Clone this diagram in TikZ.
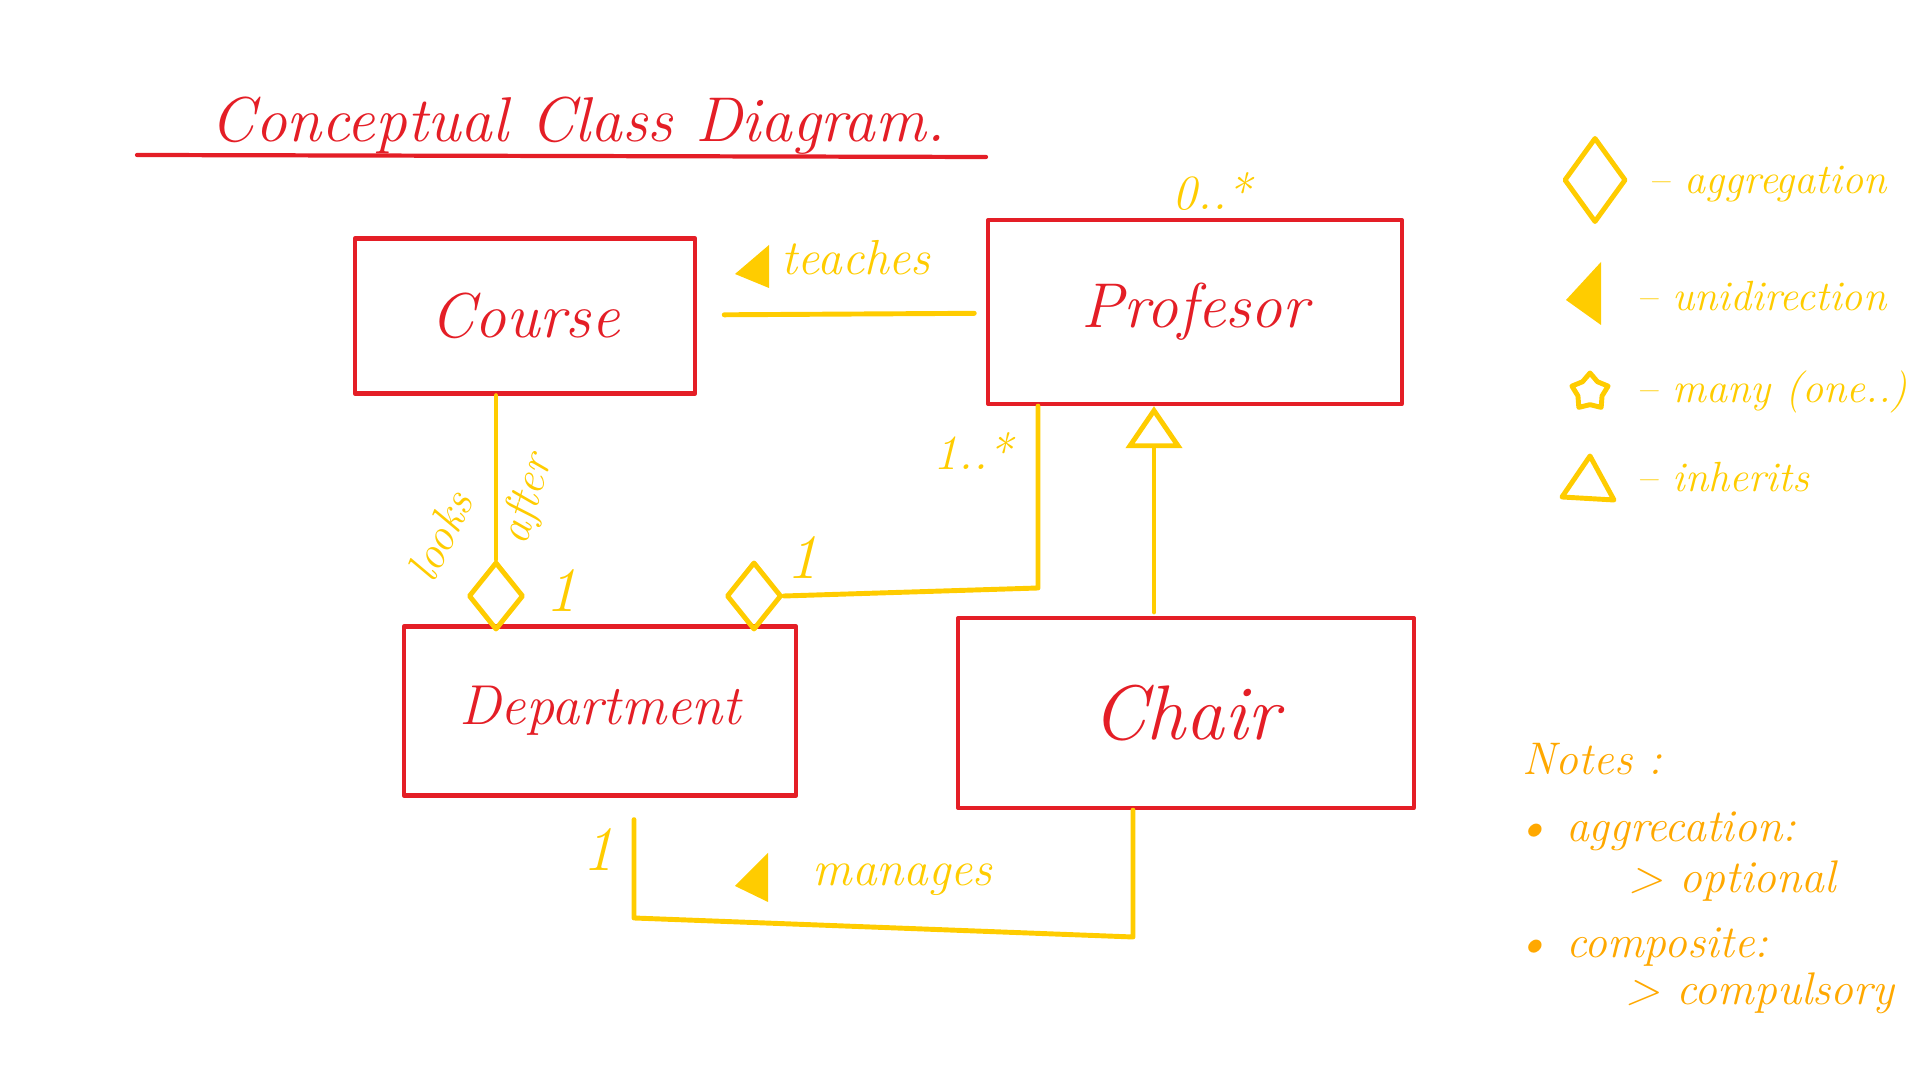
\documentclass[tikz,border=0pt]{standalone}
\usepackage{tikz}
\usetikzlibrary{arrows.meta,shapes.geometric}
\definecolor{penred}{HTML}{E41E26}
\definecolor{penyel}{HTML}{FFCC00}
\definecolor{penorg}{HTML}{FFA800}

\begin{document}
\begin{tikzpicture}[x=0.01cm, y=-0.01cm, line cap=round, line join=round,
    cls/.style={draw=penred, line width=1.2pt, text=penred, inner sep=0pt,
        font=\itshape\fontsize{18}{22}\selectfont},
    link/.style={draw=penyel, line width=1.4pt},
    lbl/.style={text=penyel, inner sep=0pt, font=\itshape\fontsize{14}{17}\selectfont},
    agg/.style={diamond, draw=penyel, line width=1.4pt, inner sep=0pt,
        minimum width=0.55cm, minimum height=0.68cm},
    inherit/.style={link, -{Triangle[open, length=0.42cm, width=0.56cm, line width=1.4pt]}},
    note/.style={text=penorg, inner sep=0pt, anchor=base west,
        font=\itshape\fontsize{13}{16}\selectfont}]
    \useasboundingbox (0,0) rectangle (1920,1080);

    % title
    \node[text=penred, anchor=base, font=\itshape\fontsize{18}{22}\selectfont] (title) at (578,142) {Conceptual Class Diagram.};
    \draw[penred, line width=1.2pt] (137,155) -- (986,157);

    % classes
    \node[cls, minimum width=3.4cm, minimum height=1.55cm] (course) at (525,316) {Course};
    \node[cls, minimum width=4.13cm, minimum height=1.84cm] (prof) at (1195,312) {Profesor};
    \node[cls, minimum width=3.92cm, minimum height=1.69cm, font=\itshape\fontsize{16}{20}\selectfont] (dept) at (600,711) {Department};
    \node[cls, minimum width=4.55cm, minimum height=1.90cm, font=\itshape\fontsize{22}{26}\selectfont] (chair) at (1186,713) {Chair};

    % teaches
    \draw[link, shorten <=0.27cm, shorten >=0.12cm] (course) -- (prof);
    \fill[penyel] (769,245) -- (769,288) -- (735,274) -- cycle;
    \node[lbl, anchor=base west] (teach) at (781,275) {teaches};
    \node[lbl] (m0) at (1212,192) {0..*};

    % looks after
    \node[agg] (agg1) at (496,596) {};
    \draw[link] (agg1.north |- course.south) -- (agg1.north);
    \node[lbl, rotate=64, font=\itshape\fontsize{13}{16}\selectfont] (looks) at (440,536) {looks};
    \node[lbl, rotate=74, font=\itshape\fontsize{13}{16}\selectfont] (after) at (528,500) {after};
    \node[lbl, font=\itshape\fontsize{18}{20}\selectfont] (c1) at (561,590) {1};

    % department -- professor
    \node[agg] (agg2) at (754,596) {};
    \coordinate (pcorner) at (1038,588);
    \draw[link] (agg2.east) -- (pcorner) -- (pcorner |- prof.south);
    \node[lbl, font=\itshape\fontsize{18}{20}\selectfont] (c2) at (802,557) {1};
    \node[lbl] (m1) at (973,451) {1..*};

    % chair inherits professor
    \coordinate (inh) at (1154,612);
    \draw[inherit] (inh) -- (inh |- prof.south);

    % manages
    \coordinate (mleft) at (634,918);
    \coordinate (mright) at (1133,937);
    \draw[link, shorten <=0.22cm] (dept.south -| mleft) -- (mleft) -- (mright) -- (mright |- chair.south);
    \fill[penyel] (768,853) -- (768,902) -- (735,886) -- cycle;
    \node[lbl, anchor=base west] (manage) at (812,886) {manages};
    \node[lbl, font=\itshape\fontsize{18}{20}\selectfont] (c3) at (598,849) {1};

    % legend
    \node[agg, minimum width=0.62cm, minimum height=0.85cm] (lagg) at (1595,180) {};
    \node[lbl, anchor=west, font=\itshape\fontsize{12}{15}\selectfont] (tagg) at (1648,184) {-- aggregation};
    \fill[penyel] (1601,262) -- (1601,325) -- (1566,300) -- cycle;
    \node[lbl, anchor=west, font=\itshape\fontsize{12}{15}\selectfont] (tuni) at (1636,296) {-- unidirection};
    \node[star, star points=5, draw=penyel, line width=1.4pt, inner sep=0pt, minimum size=0.38cm] (lstar) at (1590,392) {};
    \node[lbl, anchor=west, font=\itshape\fontsize{12}{15}\selectfont] (tmany) at (1636,392) {-- many (one..)};
    \draw[penyel, line width=1.4pt] (1562,497) -- (1590,456) -- (1614,500) -- cycle;
    \node[lbl, anchor=west, font=\itshape\fontsize{12}{15}\selectfont] (tinh) at (1636,477) {-- inherits};

    % notes
    \node[note] (nt) at (1522,775) {Notes :};
    \node[note] (n1) at (1515,842) {\textbullet\ aggrecation:};
    \node[note] (n2) at (1628,893) {> optional};
    \node[note] (n3) at (1515,958) {\textbullet\ composite:};
    \node[note] (n4) at (1625,1005) {> compulsory};
\end{tikzpicture}
\end{document}
